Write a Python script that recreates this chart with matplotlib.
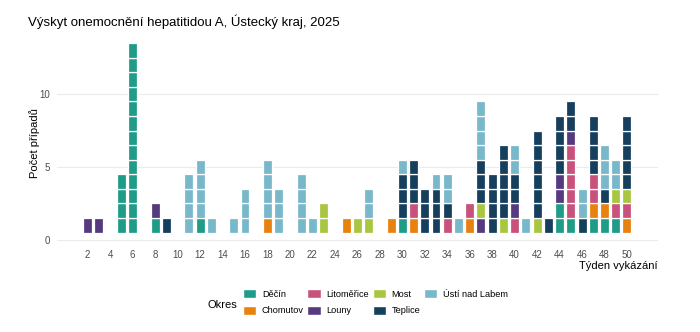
import numpy as np
import matplotlib
matplotlib.use('Agg')
import matplotlib.pyplot as plt
from matplotlib.patches import Patch

plt.rcParams['font.family'] = ['Liberation Sans', 'DejaVu Sans']

weeks = list(range(1, 51))

# pocty pripadu po tydnech (tyden 1..50)
decin = [0, 0, 0, 0, 4, 13, 0, 1, 0, 0,
         0, 1, 0, 0, 0, 0, 0, 0, 0, 0,
         0, 0, 0, 0, 0, 0, 0, 0, 0, 1,
         0, 0, 0, 0, 0, 0, 0, 0, 0, 0,
         0, 0, 0, 2, 1, 0, 1, 1, 1, 0]
chomutov = [0, 0, 0, 0, 0, 0, 0, 0, 0, 0,
            0, 0, 0, 0, 0, 0, 0, 1, 0, 0,
            0, 0, 0, 0, 1, 0, 0, 0, 1, 0,
            1, 0, 0, 0, 0, 1, 0, 0, 0, 0,
            0, 0, 0, 0, 0, 0, 1, 1, 0, 1]
litomerice = [0, 0, 0, 0, 0, 0, 0, 0, 0, 0,
              0, 0, 0, 0, 0, 0, 0, 0, 0, 0,
              0, 0, 0, 0, 0, 0, 0, 0, 0, 0,
              1, 0, 0, 1, 0, 1, 0, 0, 0, 1,
              0, 0, 0, 0, 5, 0, 2, 0, 1, 1]
louny = [0, 1, 1, 0, 0, 0, 0, 1, 0, 0,
         0, 0, 0, 0, 0, 0, 0, 0, 0, 0,
         0, 0, 0, 0, 0, 0, 0, 0, 0, 0,
         0, 0, 0, 0, 0, 0, 1, 0, 0, 1,
         0, 0, 0, 2, 1, 0, 0, 0, 0, 0]
most = [0, 0, 0, 0, 0, 0, 0, 0, 0, 0,
        0, 0, 0, 0, 0, 0, 0, 0, 0, 0,
        0, 0, 2, 0, 0, 1, 1, 0, 0, 0,
        0, 0, 0, 0, 0, 0, 1, 0, 1, 0,
        0, 1, 0, 0, 0, 0, 0, 0, 1, 1]
teplice = [0, 0, 0, 0, 0, 0, 0, 0, 1, 0,
           0, 0, 0, 0, 0, 0, 0, 0, 0, 0,
           0, 0, 0, 0, 0, 0, 0, 0, 0, 3,
           3, 3, 3, 1, 0, 0, 3, 4, 5, 2,
           0, 6, 1, 4, 2, 1, 4, 1, 0, 5]
usti = [0, 0, 0, 0, 0, 0, 0, 0, 0, 0,
        4, 4, 1, 0, 1, 3, 0, 4, 3, 0,
        4, 1, 0, 0, 0, 0, 2, 0, 0, 1,
        0, 0, 1, 2, 1, 0, 4, 0, 0, 2,
        1, 0, 0, 0, 0, 2, 0, 3, 2, 0]

okresy = ['Děčín', 'Chomutov', 'Litoměřice', 'Louny', 'Most', 'Teplice', 'Ústí nad Labem']
data = [decin, chomutov, litomerice, louny, most, teplice, usti]
barvy = ['#1f9c88', '#e8820f', '#c9527c', '#553a80', '#a9c641', '#163f5e', '#78b8ca']

fig = plt.figure(figsize=(7, 3.32), dpi=100)
ax = fig.add_axes([0.081, 0.264, 0.859, 0.611])

x = np.array(weeks)
base = np.zeros(len(weeks))
for vals, c in zip(data, barvy):
    vals = np.array(vals)
    for k in range(vals.max()):
        m = vals > k
        ax.bar(x[m], 1, bottom=base[m] + k + 0.5, width=0.8,
               color=c, edgecolor='white', linewidth=0.9, zorder=3)
    base = base + vals

ax.set_xlim(-0.76, 52.76)
ax.set_ylim(-0.3, 13.6)
ax.set_xticks(range(2, 51, 2))
ax.set_yticks([0, 5, 10])
ax.grid(axis='y', color='#ebebeb', linewidth=0.8, zorder=0)
for s in ax.spines.values():
    s.set_visible(False)
ax.tick_params(length=0, labelsize=7, labelcolor='#4d4d4d')
ax.tick_params(axis='x', pad=4)
ax.tick_params(axis='y', pad=5)
ax.set_ylabel('Počet případů', fontsize=8, labelpad=-1)
ax.set_xlabel('Týden vykázání', fontsize=8, loc='right', labelpad=1)

fig.text(28 / 700, 1 - 22 / 332, 'Výskyt onemocnění hepatitidou A, Ústecký kraj, 2025',
         fontsize=9.5, ha='left', va='center')

handles = [Patch(facecolor=c, edgecolor='white') for c in barvy]
fig.legend(handles, okresy, ncol=4, loc='upper left',
           bbox_to_anchor=(243 / 700, 1 - 289 / 332), frameon=False,
           fontsize=6.6, handlelength=1.45, handleheight=1.2,
           handletextpad=0.6, columnspacing=0.4, labelspacing=0.75,
           borderpad=0, borderaxespad=0)
fig.text(208 / 700, 1 - 305 / 332, 'Okres', fontsize=8, ha='left', va='center')

fig.savefig('out.png', dpi=100)
